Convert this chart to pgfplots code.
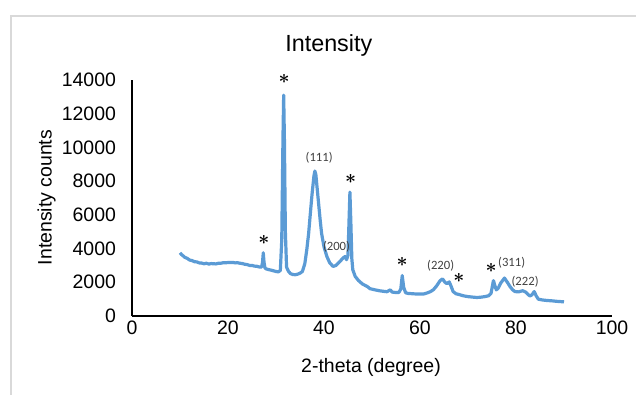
\documentclass[border=0pt]{standalone}
\usepackage{fontspec}
\setmainfont{Liberation Sans}
\newfontfamily\calfont{Carlito}
\usepackage{bm}
\usepackage{pgfplots}
\pgfplotsset{compat=1.18}
\definecolor{xrdblue}{RGB}{91,155,213}
\definecolor{framegray}{RGB}{217,217,217}
\definecolor{lbl}{RGB}{64,64,64}
\begin{document}
\begin{tikzpicture}
\begin{axis}[
  scale only axis,
  width=360pt, height=177pt,
  xmin=0, xmax=100, ymin=0, ymax=14000,
  axis lines=left,
  axis line style={-, line width=0.9pt, black},
  xtick={0,20,...,100}, ytick={0,2000,...,14000},
  major tick length=0pt,
  /pgf/number format/assume math mode=true,
  scaled y ticks=false,
  yticklabel style={/pgf/number format/1000 sep={}, xshift=-8.5pt},
  tick label style={font=\fontsize{14.6}{16}\selectfont},
  every axis title shift=0pt,
  title={Intensity},
  title style={at={(axis description cs:0.41,1.145)}, anchor=center, yshift=0pt, font=\fontsize{17.5}{20}\selectfont},
  xlabel={2-theta (degree)},
  xlabel style={at={(axis description cs:0.498,-0.216)}, anchor=center, font=\fontsize{14.6}{16}\selectfont},
  ylabel={Intensity counts},
  ylabel style={at={(axis description cs:-0.178,0.502)}, anchor=center, font=\fontsize{14.6}{16}\selectfont},
  clip=false,
]
\addplot[xrdblue, line width=2.4pt, line join=round] coordinates {
(10.0,3750)(10.3,3650)(10.6,3580)(11.0,3480)(11.5,3420)(12.0,3320)(12.5,3290)(13.0,3220)(13.5,3210)(14.0,3150)(14.5,3140)(15.0,3100)(15.5,3130)(16.0,3080)(16.5,3110)(17.0,3100)(17.5,3090)(18.0,3130)(18.5,3130)(19.0,3160)(19.5,3160)(20.0,3170)(20.5,3170)(21.0,3180)(21.5,3150)(22.0,3160)(22.5,3130)(23.0,3110)(23.5,3070)(24.0,3050)(24.5,3000)(25.0,3000)(25.5,2960)(26.0,2950)(26.5,2910)(27.0,2900)(27.2,3200)(27.35,3750)(27.5,3200)(27.7,2850)(28.0,2790)(28.5,2750)(29.0,2720)(29.5,2680)(30.0,2640)(30.5,2620)(30.9,2700)(31.2,4500)(31.45,10500)(31.6,13100)(31.75,10500)(31.95,5000)(32.2,2900)(32.6,2650)(33.0,2520)(33.5,2460)(34.0,2450)(34.5,2480)(35.0,2540)(35.5,2640)(36.0,3100)(36.4,3900)(36.8,4900)(37.1,5900)(37.5,7200)(37.9,8300)(38.1,8600)(38.3,8400)(38.8,6900)(39.2,5700)(39.5,4900)(40.0,4100)(40.6,3530)(41.2,3150)(41.9,2940)(42.5,3000)(43.3,3230)(44.0,3450)(44.4,3530)(44.7,3340)(45.0,3600)(45.2,5500)(45.4,7350)(45.6,5500)(45.8,3400)(46.0,2740)(46.5,2350)(47.2,2100)(48.0,1900)(49.0,1750)(49.6,1620)(50.5,1560)(51.5,1500)(52.5,1460)(53.1,1440)(53.8,1550)(54.2,1420)(55.0,1390)(55.6,1400)(56.0,1600)(56.3,2400)(56.6,1700)(57.0,1380)(57.5,1340)(58.5,1320)(59.5,1300)(60.7,1300)(61.5,1370)(62.2,1450)(62.8,1560)(63.5,1800)(64.2,2100)(64.7,2200)(65.2,2000)(65.6,1920)(66.1,2020)(66.5,1750)(66.9,1450)(67.5,1320)(68.2,1270)(69.0,1200)(70.0,1150)(71.0,1120)(71.8,1100)(72.5,1110)(73.5,1150)(74.3,1200)(74.8,1350)(75.3,2100)(75.6,1800)(75.9,1550)(76.3,1650)(76.8,1950)(77.6,2250)(78.2,2000)(78.75,1750)(79.3,1550)(79.8,1450)(80.5,1430)(81.4,1500)(82.0,1420)(82.5,1280)(82.9,1190)(83.3,1250)(83.8,1450)(84.2,1200)(84.65,1000)(85.5,950)(86.5,920)(87.5,900)(88.5,870)(89.5,850)(90.0,840)
};
\begin{scope}[every node/.style={inner sep=0pt, anchor=center}]
\node[font=\fontsize{14}{14}\selectfont] at (axis cs:27.5,4530) {$\bm{\ast}$};
\node[font=\fontsize{14}{14}\selectfont] at (axis cs:31.7,14060) {$\bm{\ast}$};
\node[font=\fontsize{14}{14}\selectfont] at (axis cs:45.55,8100) {$\bm{\ast}$};
\node[font=\fontsize{14}{14}\selectfont] at (axis cs:56.3,3180) {$\bm{\ast}$};
\node[font=\fontsize{14}{14}\selectfont] at (axis cs:68.1,2250) {$\bm{\ast}$};
\node[font=\fontsize{14}{14}\selectfont] at (axis cs:74.8,2840) {$\bm{\ast}$};
\node[font=\calfont\fontsize{9.5}{10}\selectfont, text=lbl] at (axis cs:39.0,9390) {(111)};
\node[font=\calfont\fontsize{9.5}{10}\selectfont, text=lbl] at (axis cs:42.6,4130) {(200)};
\node[font=\calfont\fontsize{9.5}{10}\selectfont, text=lbl] at (axis cs:64.3,2960) {(220)};
\node[font=\calfont\fontsize{9.5}{10}\selectfont, text=lbl] at (axis cs:79.1,3140) {(311)};
\node[font=\calfont\fontsize{9.5}{10}\selectfont, text=lbl] at (axis cs:81.9,2040) {(222)};
\end{scope}
\end{axis}
\draw[framegray, line width=1.5pt] (-90.4pt,-62pt) -- (-90.4pt,225pt) -- (382pt,225pt);
\pgfresetboundingbox
\path[use as bounding box] (-99pt,-58.5pt) rectangle (378pt,237pt);
\end{tikzpicture}
\end{document}
